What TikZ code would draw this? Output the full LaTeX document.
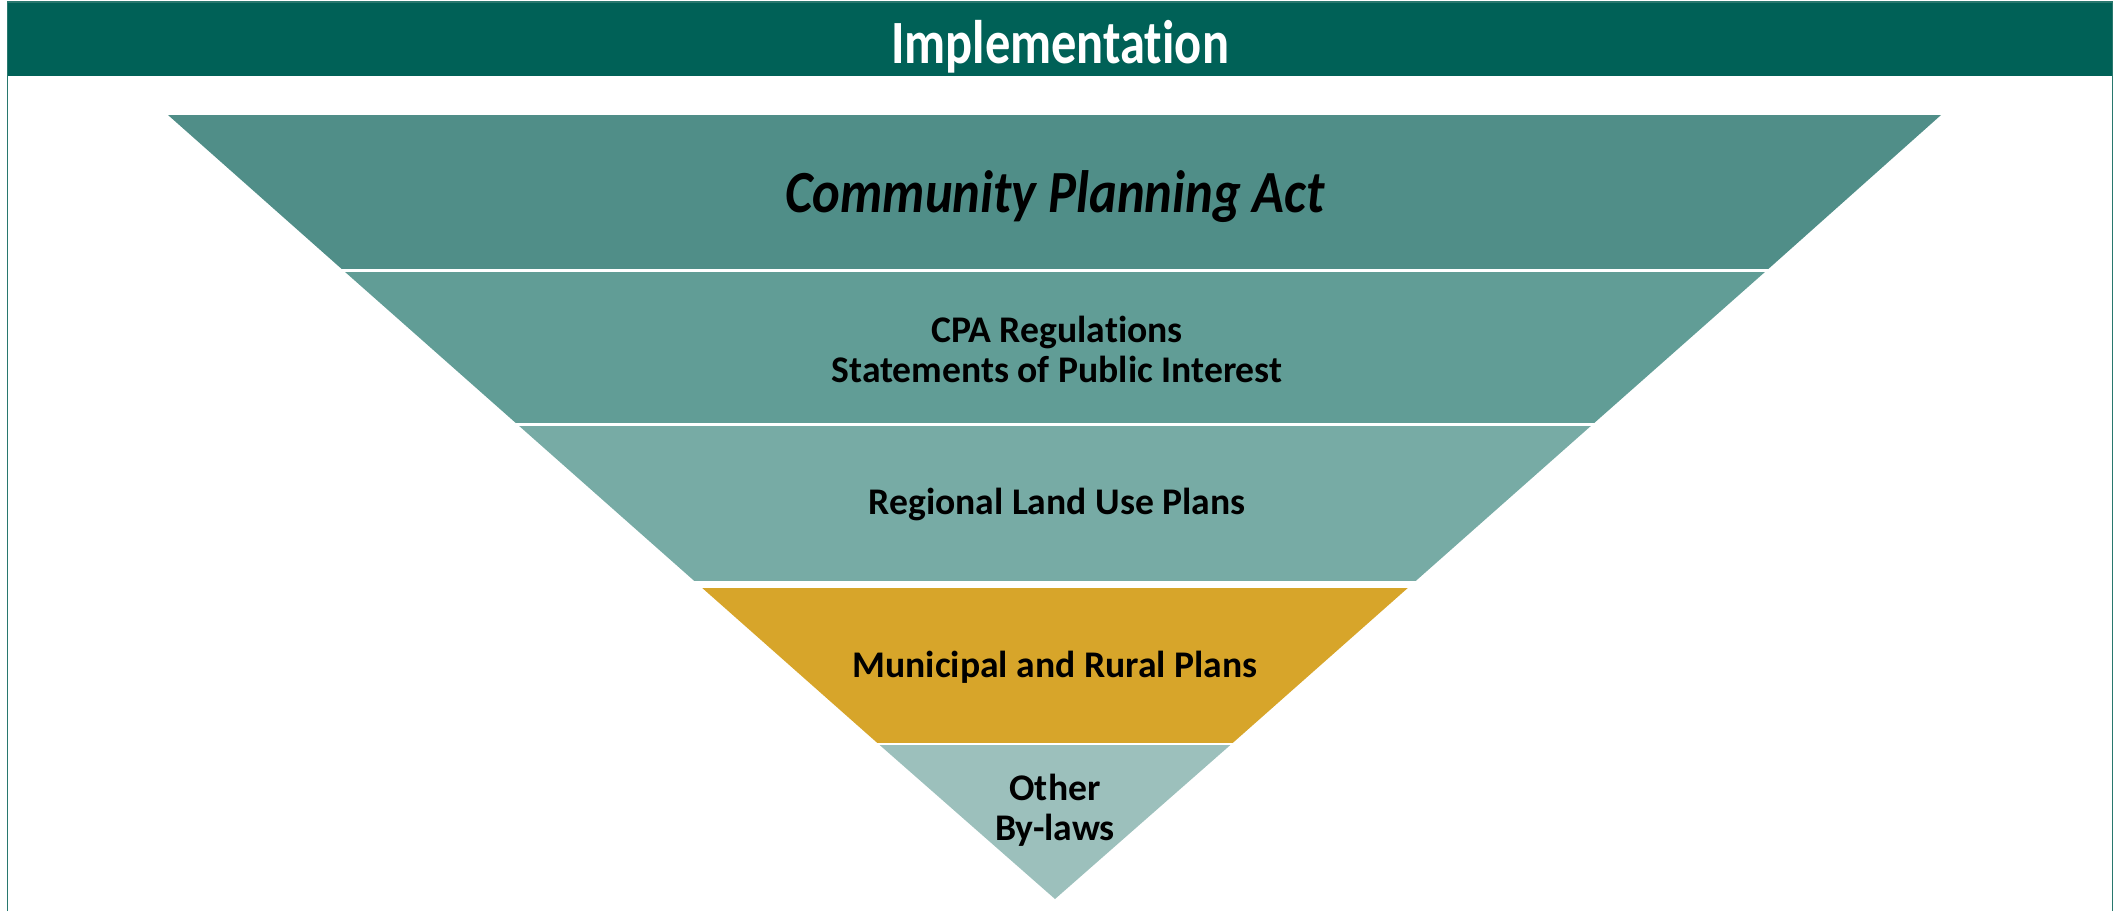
\documentclass[tikz,border=0pt]{standalone}
\usepackage{fontspec}
\setmainfont{Carlito}[Ligatures=CommonOff]
\newfontfamily\hdrfont{Carlito}[FakeStretch=0.82,Ligatures=CommonOff]
\newfontfamily\actfont{Carlito}[FakeStretch=0.88,Ligatures=CommonOff]

\definecolor{hdrgreen}{RGB}{0,97,87}
\definecolor{framegreen}{RGB}{40,120,110}
\definecolor{layerone}{RGB}{80,142,136}
\definecolor{layertwo}{RGB}{97,157,150}
\definecolor{layerthree}{RGB}{119,171,165}
\definecolor{layerfour}{RGB}{215,165,42}
\definecolor{layerfive}{RGB}{156,192,188}

\begin{document}
\begin{tikzpicture}[x=0.01cm,y=-0.01cm,
    gap/.style={draw=white,line width=#1},
    lbl/.style={font=\bfseries\fontsize{10.7}{11.4}\selectfont,align=center,inner sep=0pt}]
   \useasboundingbox (0,0) rectangle (2116,911);
   % frame and header
   \fill[hdrgreen] (7,2) rectangle (2113,76);
   \draw[framegreen,line width=0.5pt] (7.5,911) -- (7.5,2) -- (2112.5,2) -- (2112.5,911);
   \node[anchor=base,text=white,font=\hdrfont\bfseries\fontsize{17.5}{20}\selectfont] (hdr) at (1060,63) {Implementation};
   % funnel layers
   \fill[layerone] (168,115) -- (1941,115) -- (1766.6,270.5) -- (343.4,270.5) -- cycle;
   \fill[layertwo] (343.4,270.5) -- (1766.6,270.5) -- (1592.5,424.5) -- (517.5,424.5) -- cycle;
   \fill[layerthree] (517.5,424.5) -- (1592.5,424.5) -- (1411.7,584.5) -- (698.3,584.5) -- cycle;
   \fill[layerfour] (698.3,584.5) -- (1411.7,584.5) -- (1231.5,744) -- (878.5,744) -- cycle;
   \fill[layerfive] (878.5,744) -- (1231.5,744) -- (1055,899) -- cycle;
   % white gaps between the layers
   \draw[gap=0.9pt] (330,270.5) -- (1780,270.5);
   \draw[gap=0.9pt] (505,424.5) -- (1605,424.5);
   \draw[gap=1.8pt] (685,584.5) -- (1425,584.5);
   \draw[gap=0.7pt] (865,744) -- (1245,744);
   % labels
   \node[anchor=base,font=\actfont\bfseries\itshape\fontsize{17}{20}\selectfont] (act) at (1055,212) {Community Planning Act};
   \node[lbl] (regs) at (1057,349) {CPA Regulations\\Statements of Public Interest};
   \node[lbl,anchor=base] (regional) at (1057,514) {Regional Land Use Plans};
   \node[lbl,anchor=base] (municipal) at (1055,677) {Municipal and Rural Plans};
   \node[lbl] (bylaws) at (1055,810) {Other\\By-laws};
\end{tikzpicture}
\end{document}
